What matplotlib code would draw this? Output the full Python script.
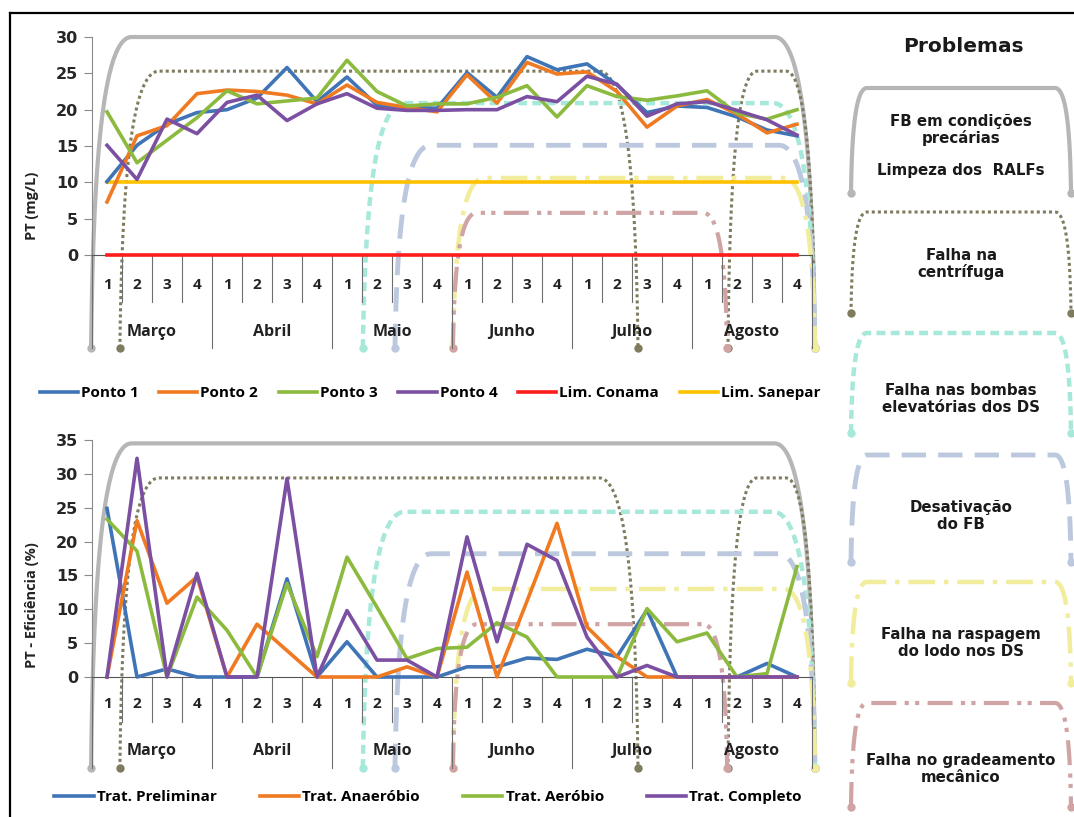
#!/usr/bin/env python3
# -*- coding: utf-8 -*-
"""PT concentration and removal efficiency per week, with plant problems overlaid."""

import matplotlib
matplotlib.use("Agg")
import matplotlib.pyplot as plt
import numpy as np

FIG_W, FIG_H = 1074, 817
CHART_FONT = ["Open Sans", "DejaVu Sans"]
PANEL_FONT = ["DejaVu Sans"]

weeks = ["1", "2", "3", "4"] * 6
months = ["Março", "Abril", "Maio", "Junho", "Julho", "Agosto"]

# PT (mg/L) per sampling point
ponto1 = [10.1, 15.1, 18.0, 19.6, 20.0, 21.6, 25.8, 21.1, 24.5, 20.6, 20.3, 20.2,
          25.1, 21.7, 27.3, 25.5, 26.3, 23.4, 19.6, 20.5, 20.3, 19.0, 17.2, 16.4]
ponto2 = [7.3, 16.4, 17.8, 22.2, 22.7, 22.5, 22.0, 20.8, 23.4, 21.0, 20.3, 19.7,
          24.8, 20.9, 26.5, 24.9, 25.2, 22.5, 17.6, 20.5, 21.4, 19.4, 16.8, 18.0]
ponto3 = [19.7, 12.7, 15.8, 18.9, 22.6, 20.8, 21.2, 21.6, 26.8, 22.5, 20.5, 20.8,
          20.8, 21.7, 23.3, 19.0, 23.3, 21.8, 21.3, 21.9, 22.6, 19.5, 18.7, 20.0]
ponto4 = [15.1, 10.4, 18.7, 16.7, 21.0, 22.0, 18.5, 20.8, 22.2, 20.2, 19.9, 19.9,
          20.0, 20.0, 21.8, 21.1, 24.6, 23.5, 19.1, 20.8, 21.1, 19.9, 18.6, 16.5]
conama_limit = 0.0
sanepar_limit = 10.0

# PT removal efficiency (%) per treatment stage
preliminar = [24.9, 0, 1.2, 0, 0, 0, 14.5, 0, 5.2, 0, 0, 0,
              1.5, 1.5, 2.8, 2.6, 4.1, 3.0, 9.9, 0, 0, 0, 2.0, 0]
anaerobio = [0, 23.1, 10.9, 14.8, 0, 7.8, 3.9, 0, 0, 0, 1.5, 0,
             15.5, 0, 11.2, 22.7, 7.4, 3.0, 0, 0, 0, 0, 0, 0]
aerobio = [23.3, 18.6, 0, 11.8, 6.9, 0, 13.8, 3.0, 17.7, 10.3, 2.7, 4.2,
           4.4, 8.0, 5.9, 0, 0, 0, 10.1, 5.2, 6.5, 0, 0.5, 16.3]
completo = [0, 32.3, 0, 15.3, 0, 0, 29.3, 0, 9.8, 2.5, 2.5, 0,
            20.7, 5.2, 19.6, 17.2, 5.9, 0, 1.7, 0, 0, 0, 0, 0]

# problem periods, in week positions (start, end)
problem_spans = [
    [(-0.53, 23.6)],
    [(0.43, 17.7), (20.7, 23.6)],
    [(8.53, 23.6)],
    [(9.6, 23.6)],
    [(11.53, 23.6)],
    [(11.53, 20.67)],
]
problem_text = [
    "FB em condições\nprecárias",
    "Falha na\ncentrífuga",
    "Falha nas bombas\nelevatórias dos DS",
    "Desativação\ndo FB",
    "Falha na raspagem\ndo lodo nos DS",
    "Falha no gradeamento\nmecânico",
]

SERIES_COLORS = ["#3f74b6", "#f07a22", "#8cba3f", "#7b50a2"]
PROBLEM_STYLES = [
    dict(color="#b6b6b6", lw=3.0, ls="-"),
    dict(color="#7f7b5e", lw=2.2, ls=(0, (1, 1))),
    dict(color="#a6e8d9", lw=3.2, ls=(0, (2, 1.2))),
    dict(color="#bcc8de", lw=3.5, ls=(0, (5, 2.5))),
    dict(color="#f1ed9c", lw=3.2, ls=(0, (6, 2, 1, 2))),
    dict(color="#d0a4a4", lw=3.0, ls=(0, (6, 2, 1, 1.5, 1, 2))),
]
LEVELS_PT = [30.0, 25.3, 20.9, 15.1, 10.6, 5.8]
LEVELS_EFF = [34.5, 29.4, 24.4, 18.2, 13.0, 7.8]
CORNERS = [1.35, 1.3, 1.4, 1.2, 1.05, 0.8]


def px_axes(fig, left, top, right, bottom):
    return fig.add_axes([left / FIG_W, 1 - bottom / FIG_H,
                         (right - left) / FIG_W, (bottom - top) / FIG_H])


def corner_curve(n=60):
    # bezier from the bottom of a side up into the top edge (g: across, u: down)
    t = np.linspace(0.0, 1.0, n)[:, None]
    p = np.array([[0.0, 1.0], [0.05, 0.4], [0.3, 0.0], [1.0, 0.0]])
    b = (1 - t) ** 3 * p[0] + 3 * (1 - t) ** 2 * t * p[1] + 3 * (1 - t) * t ** 2 * p[2] + t ** 3 * p[3]
    return b[:, 0], b[:, 1]


def outline(x0, x1, top, bottom, rc):
    rc = min(rc, (x1 - x0) / 3.0)
    g, u = corner_curve()
    xl = x0 + g * rc
    yl = top - u * (top - bottom)
    xr = x1 - g[::-1] * rc
    yr = top - u[::-1] * (top - bottom)
    return np.concatenate([xl, xr]), np.concatenate([yl, yr])


def style_axes(ax, ymax, step, height_px, sep_px, week_px, month_px):
    n = len(weeks)
    ax.set_xlim(-0.5, n - 0.5)
    ax.set_ylim(0, ymax)
    ax.set_yticks(np.arange(0, ymax + 0.1, step))
    ax.set_xticks([])
    for side in ("top", "right"):
        ax.spines[side].set_visible(False)
    ax.spines["left"].set_color("#8a8a8a")
    ax.spines["bottom"].set_color("#555555")
    ax.tick_params(axis="y", length=6, color="#8a8a8a", pad=4)
    for lab in ax.get_yticklabels():
        lab.set_fontfamily(PANEL_FONT)
        lab.set_fontweight("bold")
        lab.set_fontsize(11.5)
        lab.set_color("#262626")
    tr = ax.get_xaxis_transform()
    for k in range(n + 1):
        depth = sep_px[1] if k % 4 == 0 else sep_px[0]
        ax.plot([k - 0.5, k - 0.5], [0, -depth / height_px], transform=tr,
                color="#6e6e6e", lw=0.8, clip_on=False, zorder=2)
    for i, w in enumerate(weeks):
        ax.text(i, -week_px / height_px, w, transform=tr, ha="center", va="center",
                fontsize=11, fontweight="bold", family=CHART_FONT, color="#222222")
    for m, name in enumerate(months):
        ax.text(4 * m + 1.5, -month_px / height_px, name, transform=tr, ha="center",
                va="center", fontsize=11.5, fontweight="bold", family=CHART_FONT, color="#222222")


def draw_problems(ax, levels, below_px, height_px, ymax):
    bottom = -below_px * ymax / height_px
    for spans, lev, st, rc in zip(problem_spans, levels, PROBLEM_STYLES, CORNERS):
        for x0, x1 in spans:
            xs, ys = outline(x0, x1, lev, bottom, rc)
            ax.plot(xs, ys, color=st["color"], lw=st["lw"], ls=st["ls"],
                    clip_on=False, zorder=1, solid_capstyle="round")
            ax.plot([x0, x1], [bottom, bottom], "o", ms=5, color=st["color"],
                    mec=st["color"], clip_on=False, zorder=1)


fig = plt.figure(figsize=(FIG_W / 100, FIG_H / 100), dpi=100)
x = np.arange(len(weeks))

# --- PT concentration ---
ax1 = px_axes(fig, 92, 37, 812, 255)
style_axes(ax1, 30, 5, 218, (47, 93), 30, 77)
draw_problems(ax1, LEVELS_PT, 93, 218, 30)
pt_series = [("Ponto 1", ponto1), ("Ponto 2", ponto2), ("Ponto 3", ponto3), ("Ponto 4", ponto4)]
handles1 = []
for (name, vals), col in zip(pt_series, SERIES_COLORS):
    handles1 += ax1.plot(x, vals, color=col, lw=2.6, label=name, zorder=4, clip_on=False)
handles1 += ax1.plot(x, np.full(len(x), conama_limit), color="#ff1c1c", lw=2.6,
                     label="Lim. Conama", zorder=5, clip_on=False)
handles1 += ax1.plot(x, np.full(len(x), sanepar_limit), color="#ffc000", lw=2.6,
                     label="Lim. Sanepar", zorder=3)

# --- PT efficiency ---
ax2 = px_axes(fig, 92, 440, 812, 677)
style_axes(ax2, 35, 5, 237, (45, 91), 27, 74)
draw_problems(ax2, LEVELS_EFF, 91, 237, 35)
eff_series = [("Trat. Preliminar", preliminar), ("Trat. Anaeróbio", anaerobio),
              ("Trat. Aeróbio", aerobio), ("Trat. Completo", completo)]
handles2 = []
for (name, vals), col in zip(eff_series, SERIES_COLORS):
    handles2 += ax2.plot(x, vals, color=col, lw=2.6, label=name, zorder=4, clip_on=False)

leg_font = dict(family=CHART_FONT, weight="bold", size=11)
fig.legend(handles=handles1, loc="center", bbox_to_anchor=(430 / FIG_W, 1 - 393 / FIG_H),
           ncol=6, frameon=False, prop=leg_font, handlelength=2.5, handletextpad=0.2,
           columnspacing=1.35, borderaxespad=0)
fig.legend(handles=handles2, loc="center", bbox_to_anchor=(428 / FIG_W, 1 - 797 / FIG_H),
           ncol=4, frameon=False, prop=leg_font, handlelength=2.6, handletextpad=0.2,
           columnspacing=2.8, borderaxespad=0)

fig.text(32 / FIG_W, 1 - 206 / FIG_H, "PT (mg/L)", rotation=90, ha="center", va="center",
         fontsize=10.5, fontweight="bold", family=CHART_FONT, color="#222222")
fig.text(32 / FIG_W, 1 - 605 / FIG_H, "PT - Eficiência (%)", rotation=90, ha="center",
         va="center", fontsize=10.5, fontweight="bold", family=CHART_FONT, color="#222222")

# --- problem key on the right, drawn in pixel space ---
key = fig.add_axes([0, 0, 1, 1], zorder=-1)
key.set_xlim(0, FIG_W)
key.set_ylim(FIG_H, 0)
key.axis("off")
key.plot([10, FIG_W], [13, 13], color="black", lw=1.6)
key.plot([10, 10], [13, FIG_H], color="black", lw=1.6)

box_top = [88, 212, 333, 455, 582, 703]
box_bottom = [193, 313, 433, 562, 683, 807]
for st, top, bot in zip(PROBLEM_STYLES, box_top, box_bottom):
    xs, ys = outline(851, 1071, top, bot, 16)
    key.plot(xs, ys, color=st["color"], lw=st["lw"], ls=st["ls"], solid_capstyle="round")
    key.plot([851, 1071], [bot, bot], "o", ms=5, color=st["color"])

key.text(963, 46, "Problemas", ha="center", va="center", fontsize=14.5,
         fontweight="bold", family=PANEL_FONT, color="#1a1a1a")
text_y = [130, 264, 399, 516, 643, 769]
for txt, ty in zip(problem_text, text_y):
    key.text(961, ty, txt, ha="center", va="center", fontsize=10.8, fontweight="bold",
             family=PANEL_FONT, color="#1a1a1a", linespacing=1.1)
key.text(961, 170, "Limpeza dos  RALFs", ha="center", va="center", fontsize=10.8,
         fontweight="bold", family=PANEL_FONT, color="#1a1a1a")

fig.savefig("out.png", dpi=100)
